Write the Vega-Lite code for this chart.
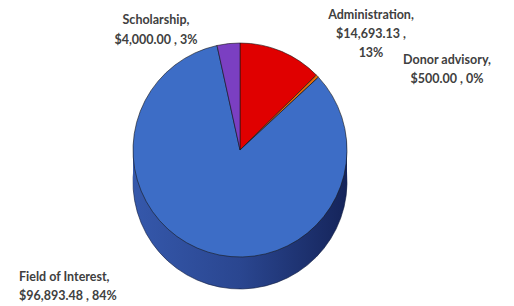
{
  "$schema": "https://vega.github.io/schema/vega-lite/v6.json",
  "width": 480,
  "height": 270,
  "autosize": {"type": "none"},
  "padding": {"left": 0, "top": 15, "right": 34, "bottom": 21},
  "background": "white",
  "view": {"stroke": null},
  "data": {
    "values": [
      {"category": "Administration", "amount": 14693.13, "label": "Administration,\n$14,693.13 ,\n13%"},
      {"category": "Donor advisory", "amount": 500.0, "label": "Donor advisory,\n$500.00 , 0%"},
      {"category": "Field of Interest", "amount": 96893.48, "label": "Field of Interest,\n$96,893.48 , 84%"},
      {"category": "Scholarship", "amount": 4000.0, "label": "Scholarship,\n$4,000.00 , 3%"}
    ]
  },
  "encoding": {
    "theta": {"field": "amount", "type": "quantitative", "stack": true},
    "order": {"field": "category", "sort": "ascending"}
  },
  "layer": [
    {"mark": {"type": "arc", "outerRadius": 107, "yOffset": 32, "stroke": "#0d1a3d", "strokeWidth": 0.6, "color": {"gradient": "linear", "stops": [{"offset": 0, "color": "#3558ab"}, {"offset": 0.5, "color": "#2a4690"}, {"offset": 1, "color": "#15245a"}]}}},
    {"mark": {"type": "arc", "outerRadius": 107, "yOffset": 26, "color": {"gradient": "linear", "stops": [{"offset": 0, "color": "#3558ab"}, {"offset": 0.5, "color": "#2a4690"}, {"offset": 1, "color": "#15245a"}]}}},
    {"mark": {"type": "arc", "outerRadius": 107, "yOffset": 20, "color": {"gradient": "linear", "stops": [{"offset": 0, "color": "#3558ab"}, {"offset": 0.5, "color": "#2a4690"}, {"offset": 1, "color": "#15245a"}]}}},
    {"mark": {"type": "arc", "outerRadius": 107, "yOffset": 14, "color": {"gradient": "linear", "stops": [{"offset": 0, "color": "#3558ab"}, {"offset": 0.5, "color": "#2a4690"}, {"offset": 1, "color": "#15245a"}]}}},
    {"mark": {"type": "arc", "outerRadius": 107, "yOffset": 8, "color": {"gradient": "linear", "stops": [{"offset": 0, "color": "#3558ab"}, {"offset": 0.5, "color": "#2a4690"}, {"offset": 1, "color": "#15245a"}]}}},
    {"mark": {"type": "arc", "outerRadius": 107, "yOffset": 3, "color": {"gradient": "linear", "stops": [{"offset": 0, "color": "#3558ab"}, {"offset": 0.5, "color": "#2a4690"}, {"offset": 1, "color": "#15245a"}]}}},
    {
      "mark": {"type": "arc", "outerRadius": 107, "stroke": "#1a1a1a", "strokeWidth": 0.6},
      "encoding": {
        "color": {
          "field": "category",
          "type": "nominal",
          "scale": {
            "domain": ["Administration", "Donor advisory", "Field of Interest", "Scholarship"],
            "range": ["#e00000", "#e46c0a", "#3d6dc6", "#7b3fc2"]
          },
          "legend": null
        }
      }
    },
    {
      "transform": [{"filter": "datum.category === 'Scholarship'"}],
      "mark": {"type": "text", "lineBreak": "\n", "align": "center", "baseline": "middle", "dx": -84, "dy": -130, "font": "Lato", "fontWeight": "bold", "fontSize": 12.5, "lineHeight": 20, "color": "#404040"},
      "encoding": {"text": {"field": "label"}, "theta": null, "order": null}
    },
    {
      "transform": [{"filter": "datum.category === 'Administration'"}],
      "mark": {"type": "text", "lineBreak": "\n", "align": "center", "baseline": "middle", "dx": 131, "dy": -135, "font": "Lato", "fontWeight": "bold", "fontSize": 12.5, "lineHeight": 19, "color": "#404040"},
      "encoding": {"text": {"field": "label"}, "theta": null, "order": null}
    },
    {
      "transform": [{"filter": "datum.category === 'Donor advisory'"}],
      "mark": {"type": "text", "lineBreak": "\n", "align": "center", "baseline": "middle", "dx": 207, "dy": -90, "font": "Lato", "fontWeight": "bold", "fontSize": 12.5, "lineHeight": 19, "color": "#404040"},
      "encoding": {"text": {"field": "label"}, "theta": null, "order": null}
    },
    {
      "transform": [{"filter": "datum.category === 'Field of Interest'"}],
      "mark": {"type": "text", "lineBreak": "\n", "align": "left", "baseline": "middle", "dx": -221, "dy": 127, "font": "Lato", "fontWeight": "bold", "fontSize": 12.5, "lineHeight": 19, "color": "#404040"},
      "encoding": {"text": {"field": "label"}, "theta": null, "order": null}
    }
  ]
}
